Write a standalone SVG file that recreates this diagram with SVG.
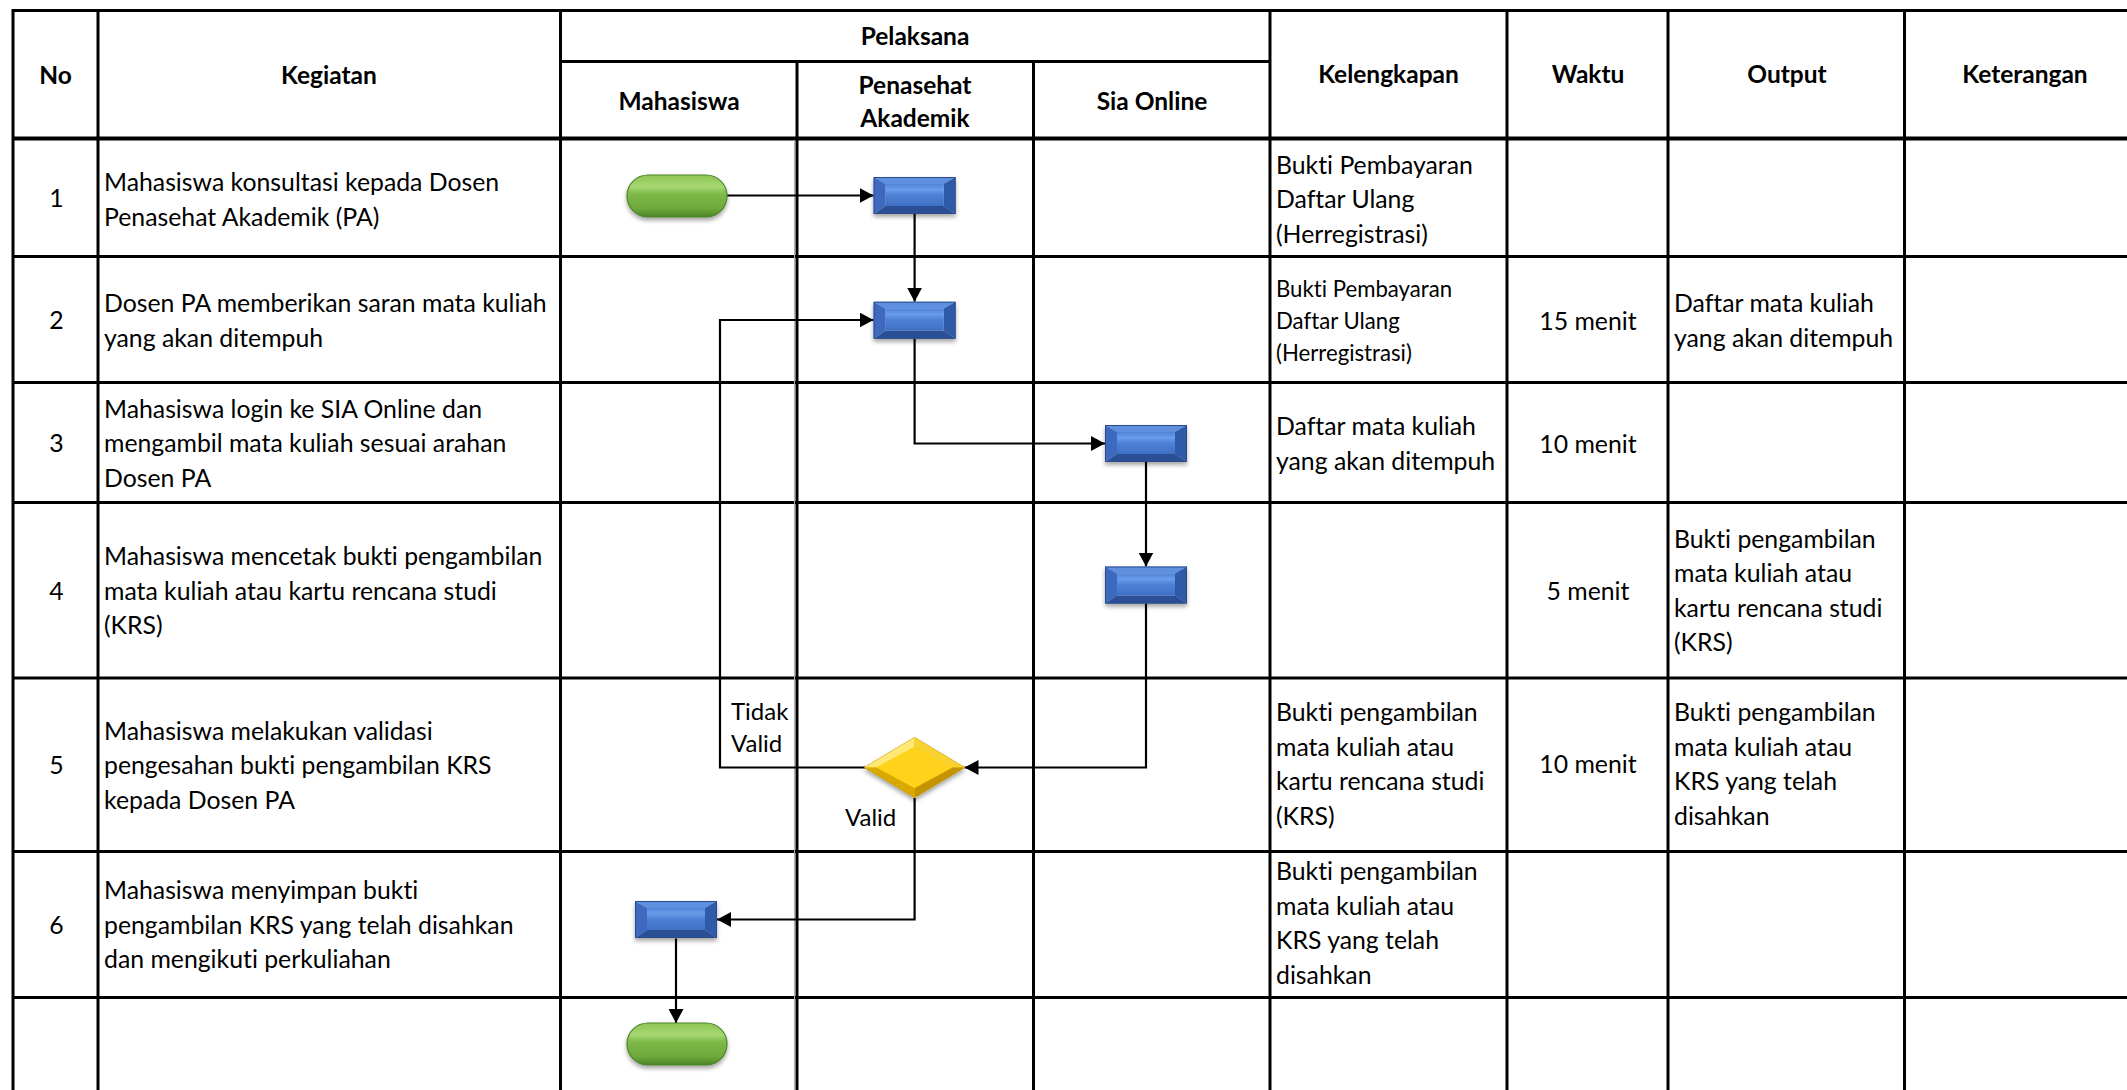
<svg xmlns="http://www.w3.org/2000/svg" xmlns:xlink="http://www.w3.org/1999/xlink" width="2127" height="1090" viewBox="0 0 2127 1090">
<style>
.grid line{stroke:#000;stroke-width:3}
.t{font-family:Lato,"Liberation Sans",sans-serif;font-size:24.8px;fill:#000;font-variant-ligatures:none}
.s{font-size:22.2px}
.b{font-weight:bold;font-size:24.5px}
.m{text-anchor:middle}
.lbl{font-size:24px}
.con{fill:none;stroke:#000;stroke-width:2.2}
</style>
<defs>
<marker id="arr" viewBox="0 0 14 15" refX="14" refY="7.5" markerWidth="14" markerHeight="15" markerUnits="userSpaceOnUse" orient="auto"><path d="M0,0 L14,7.5 L0,15 z" fill="#000"/></marker>
<filter id="sh" x="-20%" y="-20%" width="140%" height="160%"><feDropShadow dx="0" dy="3" stdDeviation="2" flood-color="#000" flood-opacity="0.35"/></filter>
<linearGradient id="gGreen" x1="0" y1="0" x2="0" y2="1">
<stop offset="0" stop-color="#8CC452"/><stop offset="0.28" stop-color="#A8D873"/><stop offset="0.45" stop-color="#7DBA48"/><stop offset="0.8" stop-color="#6CA83A"/><stop offset="1" stop-color="#4C8527"/>
</linearGradient>
<linearGradient id="gFace" x1="0" y1="0" x2="0" y2="1">
<stop offset="0" stop-color="#4F83D8"/><stop offset="0.25" stop-color="#6A9CEB"/><stop offset="0.5" stop-color="#4E82D6"/><stop offset="1" stop-color="#3F70C4"/>
</linearGradient>
<g id="box">
<polygon points="0,0 82,0 70,7 12,7" fill="#5F90E0"/>
<polygon points="0,37 82,37 70,29 12,29" fill="#2B4F95"/>
<polygon points="0,0 12,7 12,29 0,37" fill="#3E6BBE"/>
<polygon points="82,0 70,7 70,29 82,37" fill="#2F5AA8"/>
<rect x="12" y="7" width="58" height="22" fill="url(#gFace)"/>
<rect x="0.5" y="0.5" width="81" height="36" fill="none" stroke="#2A4C8E" stroke-width="1"/>
</g>
<g id="pill">
<rect x="0" y="0" width="100" height="42" rx="21" fill="url(#gGreen)" stroke="#4F852B" stroke-width="1.2"/>
</g>
</defs>
<rect width="2127" height="1090" fill="#fff"/>
<g class="grid">
<line x1="13" y1="10.5" x2="2127" y2="10.5"/>
<line x1="560.5" y1="61.5" x2="1270" y2="61.5"/>
<line x1="13" y1="138.5" x2="2127" y2="138.5" style="stroke-width:4"/>
<line x1="13" y1="256.5" x2="2127" y2="256.5"/>
<line x1="13" y1="382.5" x2="2127" y2="382.5"/>
<line x1="13" y1="502.5" x2="2127" y2="502.5"/>
<line x1="13" y1="678" x2="2127" y2="678"/>
<line x1="13" y1="851.5" x2="2127" y2="851.5"/>
<line x1="13" y1="997.5" x2="2127" y2="997.5"/>
<line x1="13" y1="9" x2="13" y2="1090"/>
<line x1="98" y1="9" x2="98" y2="1090"/>
<line x1="560.5" y1="9" x2="560.5" y2="1090"/>
<line x1="797" y1="61.5" x2="797" y2="1090"/>
<line x1="1033.5" y1="61.5" x2="1033.5" y2="1090"/>
<line x1="1270" y1="9" x2="1270" y2="1090"/>
<line x1="1507" y1="9" x2="1507" y2="1090"/>
<line x1="1668" y1="9" x2="1668" y2="1090"/>
<line x1="1904.5" y1="9" x2="1904.5" y2="1090"/>
<line x1="794.5" y1="140" x2="794.5" y2="1090" style="stroke:#b0b0b0;stroke-width:1"/>
</g>
<g id="header" class="t b m">
<text x="55.5" y="84">No</text>
<text x="329" y="84">Kegiatan</text>
<text x="915" y="45">Pelaksana</text>
<text x="679" y="110">Mahasiswa</text>
<text x="915" y="94">Penasehat</text>
<text x="915" y="127">Akademik</text>
<text x="1152" y="110">Sia Online</text>
<text x="1388.5" y="83">Kelengkapan</text>
<text x="1588" y="83">Waktu</text>
<text x="1787" y="83">Output</text>
<text x="2025" y="83">Keterangan</text>
</g>
<g id="numbers" class="t m">
<text x="56.5" y="207">1</text>
<text x="56.5" y="329">2</text>
<text x="56.5" y="452">3</text>
<text x="56.5" y="599.5">4</text>
<text x="56.5" y="774">5</text>
<text x="56.5" y="933.5">6</text>
</g>
<g id="kegiatan" class="t">
<text x="104" y="191">Mahasiswa konsultasi kepada Dosen</text>
<text x="104" y="225.5">Penasehat Akademik (PA)</text>
<text x="104" y="312">Dosen PA memberikan saran mata kuliah</text>
<text x="104" y="346.5">yang akan ditempuh</text>
<text x="104" y="417.5">Mahasiswa login ke SIA Online dan</text>
<text x="104" y="452">mengambil mata kuliah sesuai arahan</text>
<text x="104" y="486.5">Dosen PA</text>
<text x="104" y="565">Mahasiswa mencetak bukti pengambilan</text>
<text x="104" y="599.5">mata kuliah atau kartu rencana studi</text>
<text x="104" y="634">(KRS)</text>
<text x="104" y="739.5">Mahasiswa melakukan validasi</text>
<text x="104" y="774">pengesahan bukti pengambilan KRS</text>
<text x="104" y="808.5">kepada Dosen PA</text>
<text x="104" y="899">Mahasiswa menyimpan bukti</text>
<text x="104" y="933.5">pengambilan KRS yang telah disahkan</text>
<text x="104" y="968">dan mengikuti perkuliahan</text>
</g>
<g id="kelengkapan" class="t">
<text x="1276" y="173.5">Bukti Pembayaran</text>
<text x="1276" y="208">Daftar Ulang</text>
<text x="1276" y="242.5">(Herregistrasi)</text>
<text x="1276" y="297" class="s">Bukti Pembayaran</text>
<text x="1276" y="329" class="s">Daftar Ulang</text>
<text x="1276" y="361" class="s">(Herregistrasi)</text>
<text x="1276" y="435">Daftar mata kuliah</text>
<text x="1276" y="469.5">yang akan ditempuh</text>
<text x="1276" y="721">Bukti pengambilan</text>
<text x="1276" y="755.5">mata kuliah atau</text>
<text x="1276" y="790">kartu rencana studi</text>
<text x="1276" y="824.5">(KRS)</text>
<text x="1276" y="880">Bukti pengambilan</text>
<text x="1276" y="914.5">mata kuliah atau</text>
<text x="1276" y="949">KRS yang telah</text>
<text x="1276" y="983.5">disahkan</text>
</g>
<g id="waktu" class="t m">
<text x="1588" y="330">15 menit</text>
<text x="1588" y="452.5">10 menit</text>
<text x="1588" y="599.5">5 menit</text>
<text x="1588" y="773">10 menit</text>
</g>
<g id="output" class="t">
<text x="1674" y="312">Daftar mata kuliah</text>
<text x="1674" y="346.5">yang akan ditempuh</text>
<text x="1674" y="547.5">Bukti pengambilan</text>
<text x="1674" y="582">mata kuliah atau</text>
<text x="1674" y="616.5">kartu rencana studi</text>
<text x="1674" y="651">(KRS)</text>
<text x="1674" y="721">Bukti pengambilan</text>
<text x="1674" y="755.5">mata kuliah atau</text>
<text x="1674" y="790">KRS yang telah</text>
<text x="1674" y="824.5">disahkan</text>
</g>
<g id="connectors">
<path class="con" d="M727,195.5 H873.6" marker-end="url(#arr)"/>
<path class="con" d="M914.6,214 V301.7" marker-end="url(#arr)"/>
<path class="con" d="M914.6,338.7 V443.5 H1105" marker-end="url(#arr)"/>
<path class="con" d="M1146,461.5 V566.5" marker-end="url(#arr)"/>
<path class="con" d="M1146,603.5 V767.5 H964.5" marker-end="url(#arr)"/>
<path class="con" d="M865,767.5 H720 V320 H873.6" marker-end="url(#arr)"/>
<path class="con" d="M914.6,798 V919.5 H717" marker-end="url(#arr)"/>
<path class="con" d="M676,938.5 V1023" marker-end="url(#arr)"/>
<text class="t lbl" x="731" y="719.5">Tidak</text>
<text class="t lbl" x="731" y="752">Valid</text>
<text class="t lbl" x="845" y="826">Valid</text>
</g>
<g id="start" filter="url(#sh)"><use href="#pill" x="627" y="175"/></g>
<g id="p1" filter="url(#sh)"><use href="#box" x="873.6" y="177"/></g>
<g id="p2" filter="url(#sh)"><use href="#box" x="873.6" y="301.7"/></g>
<g id="p3" filter="url(#sh)"><use href="#box" x="1105" y="425"/></g>
<g id="p4" filter="url(#sh)"><use href="#box" x="1105" y="566.5"/></g>
<g id="decision" filter="url(#sh)">
<polygon points="914.5,737.5 964.5,767.5 914.5,797.5 864.5,767.5" fill="#F0C000" stroke="#C79B00" stroke-width="1"/>
<polygon points="914.5,737.5 864.5,767.5 876.5,767.5 914.5,747" fill="#FFE873"/>
<polygon points="914.5,737.5 964.5,767.5 952.5,767.5 914.5,747" fill="#F7D232"/>
<polygon points="864.5,767.5 914.5,797.5 914.5,788 876.5,767.5" fill="#D9A900"/>
<polygon points="964.5,767.5 914.5,797.5 914.5,788 952.5,767.5" fill="#C49400"/>
<polygon points="914.5,747 952.5,767.5 914.5,788 876.5,767.5" fill="#FFD21A"/>
</g>
<g id="p5" filter="url(#sh)"><use href="#box" x="635" y="901"/></g>
<g id="end" filter="url(#sh)"><use href="#pill" x="627" y="1023"/></g>
</svg>
